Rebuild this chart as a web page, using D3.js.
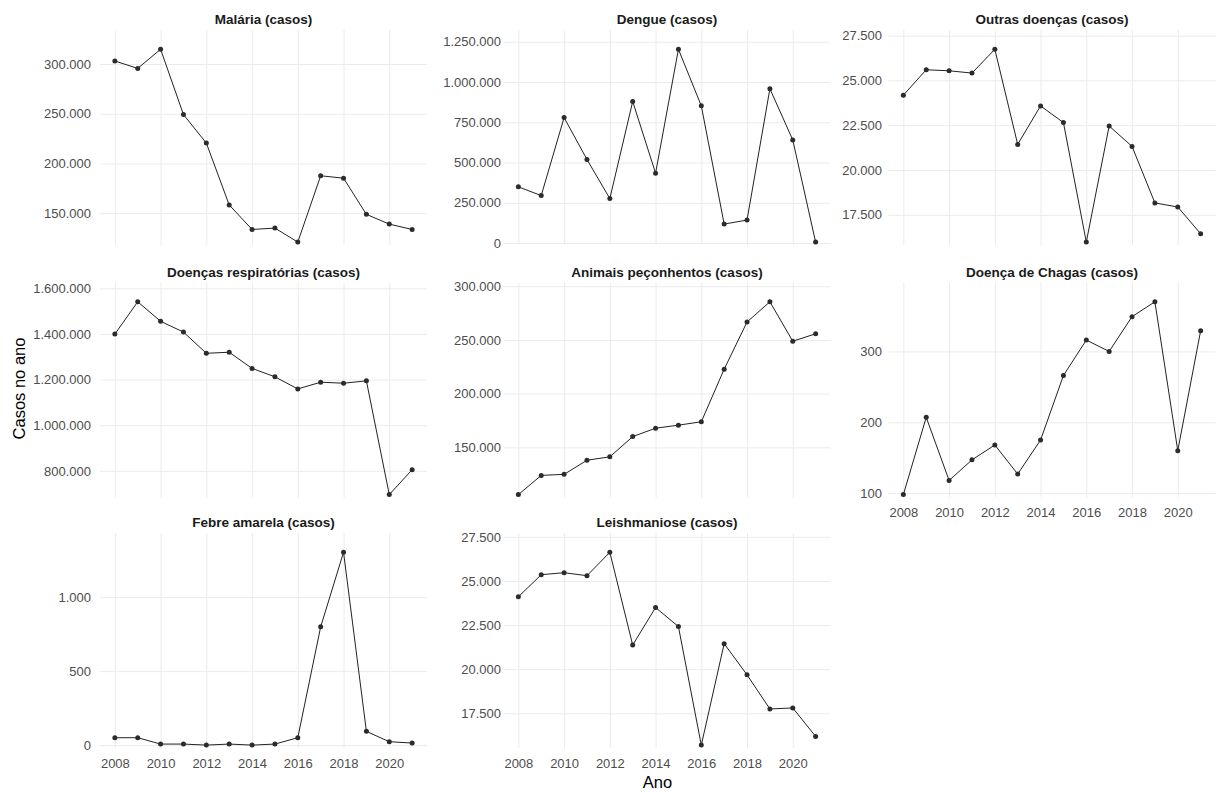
<!DOCTYPE html>
<html>
<head>
<meta charset="utf-8">
<script src="https://cdn.jsdelivr.net/npm/d3@7"></script>
<style>
  body { margin: 0; background: #fff; }
  text { font-family: 'Liberation Sans', Arial, sans-serif; }
</style>
</head>
<body>
<script>
// anos e valores
const anos = [2008, 2009, 2010, 2011, 2012, 2013, 2014, 2015, 2016, 2017, 2018, 2019, 2020, 2021];
const anosTicks = [2008, 2010, 2012, 2014, 2016, 2018, 2020];

const titulos = [
  'Malária (casos)', 'Dengue (casos)', 'Outras doenças (casos)',
  'Doenças respiratórias (casos)', 'Animais peçonhentos (casos)', 'Doença de Chagas (casos)',
  'Febre amarela (casos)', 'Leishmaniose (casos)'
];

const malaria = [303000, 295600, 314800, 249200, 220500, 158300, 133600, 135000, 120900, 187600, 185200, 148800, 139000, 133600];
const dengue = [349000, 295000, 779000, 519000, 276000, 879000, 434000, 1203000, 852000, 118000, 143000, 958000, 640000, 6000];
const outras = [24176, 25594, 25538, 25409, 26738, 21429, 23576, 22646, 15975, 22455, 21317, 18161, 17937, 16440];
const respiratorias = [1399400, 1541000, 1455450, 1408250, 1315325, 1319750, 1248950, 1212075, 1158975, 1188475, 1184050, 1194375, 695825, 804975];
const peconhentos = [106000, 123900, 124850, 138000, 141170, 160000, 167850, 170670, 173810, 222780, 266730, 285560, 248830, 255740];
const chagas = [98, 207, 118, 147, 168, 127, 175, 266, 316, 300, 349, 370, 160, 329];
const febre = [50, 50, 7, 7, 0, 7, 0, 7, 50, 799, 1303, 93, 23, 14];
const leish = [24104, 25356, 25470, 25299, 26627, 21371, 23496, 22415, 15698, 21447, 19682, 17747, 17804, 16191];

// marcas do eixo y de cada painel
const ticksMalaria = [150000, 200000, 250000, 300000];
const ticksDengue = [0, 250000, 500000, 750000, 1000000, 1250000];
const ticksOutras = [17500, 20000, 22500, 25000, 27500];
const ticksResp = [800000, 1000000, 1200000, 1400000, 1600000];
const ticksPecon = [150000, 200000, 250000, 300000];
const ticksChagas = [100, 200, 300];
const ticksFebre = [0, 500, 1000];
const ticksLeish = [17500, 20000, 22500, 25000, 27500];

const series = [malaria, dengue, outras, respiratorias, peconhentos, chagas, febre, leish];
const ticksY = [ticksMalaria, ticksDengue, ticksOutras, ticksResp, ticksPecon, ticksChagas, ticksFebre, ticksLeish];

// layout
const width = 1218, height = 792;
const colLeft = [100, 503.5, 888.5];
const labelRight = [91, 501, 882];
const rowTop = [30, 282.5, 533];
const panelW = 327, panelH = 215;

const fmt = d3.formatLocale({ decimal: ',', thousands: '.', grouping: [3], currency: ['', ''] }).format(',');

const svg = d3.select('body')
  .append('svg')
  .attr('width', width)
  .attr('height', height);

svg.append('rect').attr('width', width).attr('height', height).attr('fill', '#fff');

const x = d3.scaleLinear().domain([2008 - 0.65, 2021 + 0.65]).range([0, panelW]);

series.forEach(function (vals, i) {
  const col = i % 3, row = Math.floor(i / 3);
  const left = colLeft[col], top = rowTop[row];
  // eixo x aparece so no ultimo painel de cada coluna
  const showX = i >= 5;

  const ext = d3.extent(vals);
  const r = ext[1] - ext[0];
  const y = d3.scaleLinear()
    .domain([ext[0] - 0.015 * r, ext[1] + 0.1 * r])
    .range([panelH, 0]);

  const g = svg.append('g').attr('transform', 'translate(' + left + ',' + top + ')');

  // grid
  g.append('g')
    .attr('class', 'grid')
    .call(d3.axisLeft(y).tickValues(ticksY[i]).tickSize(-panelW).tickFormat(''));
  g.append('g')
    .attr('class', 'grid')
    .attr('transform', 'translate(0,' + panelH + ')')
    .call(d3.axisBottom(x).tickValues(anosTicks).tickSize(-panelH).tickFormat(''));
  g.selectAll('.grid .domain').remove();
  g.selectAll('.grid line').attr('stroke', '#EBEBEB').attr('stroke-width', 1);

  // y labels
  const ya = g.append('g')
    .call(d3.axisLeft(y).tickValues(ticksY[i]).tickSize(0).tickPadding(left - labelRight[col]).tickFormat(fmt));
  ya.select('.domain').remove();
  ya.selectAll('text').attr('font-size', 13).attr('fill', '#4D4D4D')
    .style('font-family', "'Liberation Sans', Arial, sans-serif");

  if (showX) {
    const xa = g.append('g')
      .attr('transform', 'translate(0,' + panelH + ')')
      .call(d3.axisBottom(x).tickValues(anosTicks).tickSize(0).tickPadding(10.5).tickFormat(d3.format('d')));
    xa.select('.domain').remove();
    xa.selectAll('text').attr('font-size', 13).attr('fill', '#4D4D4D')
      .style('font-family', "'Liberation Sans', Arial, sans-serif");
  }

  // titulo do painel
  g.append('text')
    .attr('x', panelW / 2)
    .attr('y', -6)
    .attr('text-anchor', 'middle')
    .attr('font-size', 13.5)
    .attr('font-weight', 'bold')
    .attr('fill', '#1A1A1A')
    .text(titulos[i]);

  // linha + pontos
  const line = d3.line()
    .x(function (d, j) { return x(anos[j]); })
    .y(function (d) { return y(d); });

  g.append('path')
    .datum(vals)
    .attr('d', line)
    .attr('fill', 'none')
    .attr('stroke', '#222')
    .attr('stroke-width', 1);

  g.selectAll('circle')
    .data(vals)
    .enter()
    .append('circle')
    .attr('cx', function (d, j) { return x(anos[j]); })
    .attr('cy', function (d) { return y(d); })
    .attr('r', 2.5)
    .attr('fill', '#2b2b2b');
});

// titulos dos eixos
svg.append('text')
  .attr('transform', 'translate(25,388.5) rotate(-90)')
  .attr('text-anchor', 'middle')
  .attr('font-size', 16.5)
  .attr('fill', '#000')
  .text('Casos no ano');

svg.append('text')
  .attr('x', 657.5)
  .attr('y', 788)
  .attr('text-anchor', 'middle')
  .attr('font-size', 16.5)
  .attr('fill', '#000')
  .text('Ano');
</script>
</body>
</html>
